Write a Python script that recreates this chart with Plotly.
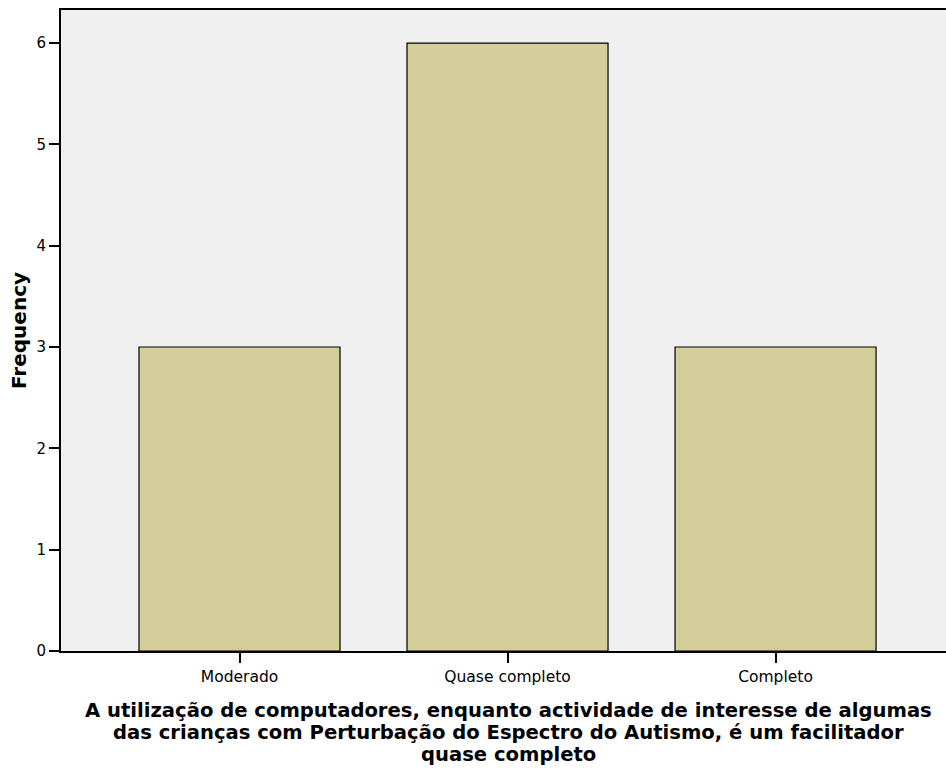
import plotly.graph_objects as go

# Frequency of responses per category
categories = ["Moderado", "Quase completo", "Completo"]
frequencies = [3, 6, 3]
y_ticks = [0, 1, 2, 3, 4, 5, 6]

x_title_lines = [
    "A utilização de computadores, enquanto actividade de interesse de algumas",
    "das crianças com Perturbação do Espectro do Autismo, é um facilitador",
    "quase completo",
]

fig = go.Figure()
fig.add_trace(go.Bar(
    x=list(range(len(categories))),
    y=frequencies,
    width=0.75,
    marker=dict(color="rgb(211,206,153)", line=dict(color="black", width=1.2)),
    hoverinfo="skip",
))

font_family = "DejaVu Sans, Liberation Sans, Arial, sans-serif"

# plot area in pixels: left 61, right 946, top 10, bottom 651
plot_w, plot_h = 885, 641

annotations = []
for i, line in enumerate(x_title_lines):
    center_px = 710 + 22 * i
    annotations.append(dict(
        text="<b>" + line + "</b>",
        xref="paper", yref="paper",
        x=(508 - 61) / plot_w, y=-(center_px - 651) / plot_h,
        xanchor="center", yanchor="middle",
        showarrow=False, align="center",
        font=dict(size=19.6, family=font_family, color="black"),
    ))

fig.update_layout(
    width=946, height=769,
    margin=dict(l=61, r=0, t=10, b=118),
    paper_bgcolor="white",
    plot_bgcolor="#F0F0F0",
    showlegend=False,
    font=dict(family=font_family, color="black"),
    xaxis=dict(
        range=[-0.666, 2.636],
        tickmode="array",
        tickvals=list(range(len(categories))),
        ticktext=categories,
        ticks="outside", ticklen=10, tickwidth=1.5, tickcolor="black",
        tickfont=dict(size=15.5, family=font_family),
        showline=True, linecolor="black", linewidth=2,
        mirror=True,
        showgrid=False, zeroline=False,
    ),
    yaxis=dict(
        range=[0, 6.326],
        tickmode="array",
        tickvals=y_ticks,
        ticks="outside", ticklen=10, tickwidth=1.5, tickcolor="black",
        tickfont=dict(size=15, family=font_family),
        showline=True, linecolor="black", linewidth=2,
        showgrid=False, zeroline=False,
        title=dict(text="<b>Frequency</b>", font=dict(size=20, family=font_family), standoff=4),
    ),
    annotations=annotations,
)

fig.write_html("out.html")
